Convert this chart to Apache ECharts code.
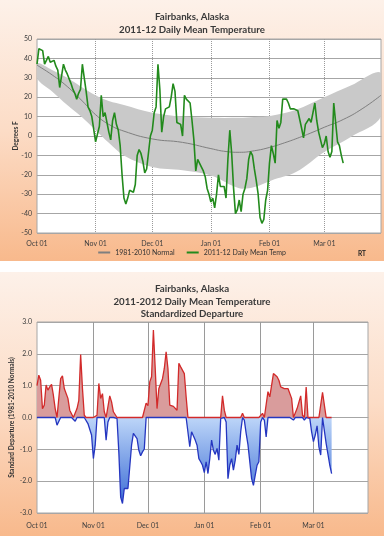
<!DOCTYPE html>
<html><head><meta charset="utf-8">
<script src="https://cdn.jsdelivr.net/npm/echarts@6/dist/echarts.min.js"></script>
<style>
html,body{margin:0;padding:0;background:#fff;width:384px;height:536px;overflow:hidden}
.panel{position:absolute;left:0;width:384px;background:linear-gradient(to bottom,#fdf1e9 0%,#fcdcc6 50%,#f8b98c 100%);}
#c1{top:0;height:261px}
#c2{top:272px;height:264px}
</style></head><body>
<div id="c1" class="panel"></div><div id="c2" class="panel"></div>
<script>
// ---- data ----
const dayCount = 183; // Oct 01 .. Mar 31
const monthTickDays = [0, 31, 61, 92, 123, 152];
const monthTickLabels = ['Oct 01', 'Nov 01', 'Dec 01', 'Jan 01', 'Feb 01', 'Mar 01'];
const tempTicks = [-50, -40, -30, -20, -10, 0, 10, 20, 30, 40, 50];
const depTicks = [-3, -2, -1, 0, 1, 2, 3];

const dailyTemp = [
  37, 45, 45, 44, 37, 36, 41, 38, 39, 39,
  36, 34, 25, 31, 37, 34, 32, 31, 27, 24,
  22, 19, 22, 24, 37, 30, 23, 15, 13, 10,
  9, -3, -3, 5, 21, 10, 12, 12, 2, -2,
  8, 12, 6, 3, -5, -20, -32, -35, -32, -28,
  -28, -29, -25, -10, -7, -9, -13, -19, -17, -16,
  0, 3, 12, 15, 37, 24, 2, 10, 14, 15,
  15, 20, 27, 23, 7, 7, 6, 0, 21, 19,
  19, 17, 8, -2, -18, -12, -13, -16, -18, -21,
  -27, -30, -34, -32, -37, -30, -20, -26, -25, -26,
  -32, -12, 3, -9, -27, -40, -38, -33, -39, -30,
  -27, -22, -12, -8, -10, -17, -23, -30, -42, -45,
  -43, -33, -28, -14, -5, -9, -14, 8, 4, 7,
  19, 20, 19, 17, 14, 15, 14, 14, 13, 12,
  4, -1, 6, 6, 9, 7, 6, 17, 8, 2,
  -2, -6, -4, 0, -8, -11, -8, 17, 17, -3,
  -5, -10, -14
];

const normalDays = [0, 8, 16, 24, 31, 38, 46, 61, 77, 92, 100, 107, 115, 123, 131, 139, 146, 152, 162, 172, 182];
const normalTemp = [36.5, 31.5, 25.5, 18, 11, 6, 2.5, -1.5, -3.3, -6.5, -8, -8.4, -7.6, -5.9, -3.5, -0.7, 2, 4.5, 8.5, 14, 21];

const bandDays  = [0, 8, 16, 24, 31, 38, 46, 61, 77, 92, 107, 115, 124, 137, 152, 166, 182];
const bandUpper = [37.5, 34, 30, 25, 21, 18, 16, 12, 10, 9.4, 9.4, 9.8, 10.5, 13.5, 20, 26, 32.5];
const bandLower = [29.8, 23, 16, 9.5, 3, -3.5, -10, -16, -17.7, -20.3, -26.9, -26.3, -22.9, -18.6, -8.2, -0.5, 10];

const dailyDeparture = [
  1.0, 1.33, 1.17, 0.28, 0.39, 1.02, 0.86, 0.96, 1.04, 0.7,
  0.28, -0.24, -0.24, 1.22, 1.31, 0.91, 0.89, 0.6, 0.23, 0.2,
  -0.03, -0.12, 0.28, 0.54, 1.98, 0.91, 0.07, -0.05, -0.19, -0.22,
  -0.55, -1.29, -0.87, 0.07, 1.07, 0.6, 0.75, 0.18, -0.71, -0.14,
  0.68, 0.49, 0.18, 0.13, -0.03, -1.1, -2.5, -2.7, -2.23, -2.18,
  -2.23, -2.18, -0.87, -0.5, -0.45, -0.66, -1.03, -1.2, -1.08, -0.99,
  0.45, 0.37, 1.12, 1.28, 2.75, 1.54, 0.28, 0.91, 0.96, 1.22,
  1.54, 2.06, 1.54, 0.39, 0.37, 0.35, 0.33, 0.23, 1.7, 1.59,
  1.54, 1.38, 0.65, -0.03, -0.92, -0.45, -0.5, -0.71, -0.87, -1.29,
  -1.39, -1.5, -1.73, -1.39, -1.76, -1.29, -0.71, -1.03, -1.16, -0.97,
  -1.34, -0.03, 0.68, 0.23, -0.14, -1.92, -1.5, -1.29, -1.65, -1.34,
  -0.87, -1.16, -0.45, 0.13, -0.08, -0.5, -0.85, -0.87, -1.92, -2.13,
  -1.81, -1.5, -1.39, -0.14, 0.13, -0.08, -0.61, 0.81, 0.65, 0.6,
  1.38, 1.38, 1.28, 1.17, 0.96, 1.02, 0.91, 0.96, 0.91, 0.91,
  0.6, -0.08, 0.02, 0.28, 0.28, 0.68, 0.07, -0.08, 0.96, -0.03,
  -0.03, -0.45, -0.76, -0.55, -0.26, -0.92, -1.18, 0.79, 0.75, -0.82,
  -0.87, -1.5, -1.76
];

// ---- helpers ----
const categories = Array.from({length: dayCount}, (_, i) => String(i));
const isMonthStart = (i) => monthTickDays.indexOf(i) >= 0;
const monthLabel = (i) => { const k = monthTickDays.indexOf(i); return k >= 0 ? monthTickLabels[k] : ''; };
const FONT = 'Lato, "Open Sans", sans-serif';

function xAxisCfg(splitType, labelMargin) {
  return {
    type: 'category', data: categories, boundaryGap: false,
    axisLine: {show: true, lineStyle: {color: '#a6a6a6', width: 1}},
    axisTick: {show: false},
    axisLabel: {interval: (i) => isMonthStart(i), formatter: (v, i) => monthLabel(i),
      color: '#404040', fontSize: 7, fontFamily: FONT, margin: labelMargin},
    splitLine: {show: true, interval: (i) => isMonthStart(i) && i > 0,
      lineStyle: {color: '#9a9a9a', type: splitType, width: 1}}
  };
}

// ---- top chart ----
const c1 = echarts.init(document.getElementById('c1'), null, {renderer: 'canvas'});
c1.setOption({
  backgroundColor: 'transparent',
  animation: false,
  textStyle: {fontFamily: FONT},
  title: {text: 'Fairbanks, Alaska\n2011-12 Daily Mean Temperature', left: 'center', top: 5,
    textStyle: {fontSize: 9.7, fontWeight: 'bold', color: '#3a3a3a', lineHeight: 13, fontFamily: FONT}},
  grid: {left: 37, right: 3, top: 39, bottom: 28, show: true, backgroundColor: '#ffffff', borderColor: '#a6a6a6', borderWidth: 1},
  xAxis: xAxisCfg('dotted', 7),
  yAxis: {type: 'value', min: tempTicks[0], max: tempTicks[tempTicks.length - 1], interval: 10,
    name: 'Degrees F', nameLocation: 'middle', nameGap: 18, nameRotate: 90, nameMoveOverlap: false,
    nameTextStyle: {fontSize: 6.5, fontWeight: 'bold', color: '#333', fontFamily: FONT},
    axisLine: {show: false}, axisTick: {show: false},
    axisLabel: {color: '#404040', fontSize: 7, fontFamily: FONT, margin: 5},
    splitLine: {show: true, lineStyle: {color: '#a6a6a6', width: 1}}},
  legend: {data: ['1981-2010 Normal', '2011-12 Daily Mean Temp'], left: 'center', top: 249,
    icon: 'rect', itemWidth: 12, itemHeight: 2, itemGap: 12, padding: 0,
    textStyle: {fontSize: 7, color: '#333', fontFamily: FONT}},
  graphic: [{type: 'text', left: 358, top: 250, style: {text: 'RT', fontSize: 6.5, fontWeight: 'bold', fill: '#222', fontFamily: FONT}}],
  series: [
    {name: 'band', type: 'custom', silent: true, clip: true, z: 1,
      data: [[0, 0]],
      renderItem: function (params, api) {
        const pts = [];
        for (let i = 0; i < bandDays.length; i++) pts.push(api.coord([bandDays[i], bandUpper[i]]));
        for (let i = bandDays.length - 1; i >= 0; i--) pts.push(api.coord([bandDays[i], bandLower[i]]));
        return {type: 'polygon', shape: {points: pts, smooth: 0.35}, style: {fill: '#c9c9c9'}};
      }},
    {name: '1981-2010 Normal', type: 'line', symbol: 'none', smooth: true, z: 2,
      data: normalDays.map((d, i) => [d, normalTemp[i]]), color: '#7f7f7f', lineStyle: {color: '#7f7f7f', width: 1}},
    {name: '2011-12 Daily Mean Temp', type: 'line', symbol: 'none', z: 3,
      data: dailyTemp, color: '#228a1c', lineStyle: {color: '#228a1c', width: 1.6}}
  ]
});

// ---- bottom chart ----
const c2 = echarts.init(document.getElementById('c2'), null, {renderer: 'canvas'});
c2.setOption({
  backgroundColor: 'transparent',
  animation: false,
  textStyle: {fontFamily: FONT},
  title: {text: 'Fairbanks, Alaska\n2011-2012 Daily Mean Temperature\nStandardized Departure', left: 'center', top: 6,
    textStyle: {fontSize: 9.7, fontWeight: 'bold', color: '#3a3a3a', lineHeight: 12.5, fontFamily: FONT}},
  grid: {left: 35.5, right: 16, top: 50, bottom: 23, show: true, backgroundColor: '#ffffff', borderColor: '#a6a6a6', borderWidth: 1},
  xAxis: xAxisCfg('solid', 9),
  yAxis: {type: 'value', min: depTicks[0], max: depTicks[depTicks.length - 1], interval: 1,
    name: 'Standard Departure (1981-2010 Normals)', nameLocation: 'middle', nameGap: 22, nameRotate: 90, nameMoveOverlap: false,
    nameTextStyle: {fontSize: 6.5, fontWeight: 'bold', color: '#333', fontFamily: FONT},
    axisLine: {show: false}, axisTick: {show: false},
    axisLabel: {color: '#404040', fontSize: 7, fontFamily: FONT, margin: 5, formatter: (v) => v.toFixed(1)},
    splitLine: {show: true, lineStyle: {color: '#a6a6a6', width: 1}}},
  series: [
    {name: 'below', type: 'line', symbol: 'none',
      data: dailyDeparture.map(v => Math.min(v, 0)),
      lineStyle: {color: '#2536c0', width: 1.3},
      areaStyle: {opacity: 1, color: {type: 'linear', x: 0, y: 146, x2: 0, y2: 241, global: true,
        colorStops: [{offset: 0, color: '#bcd5f8'}, {offset: 1, color: '#2f62d2'}]}}},
    {name: 'above', type: 'line', symbol: 'none',
      data: dailyDeparture.map(v => Math.max(v, 0)),
      lineStyle: {color: '#d22a2a', width: 1.3},
      areaStyle: {opacity: 1, color: '#d99c9c'}}
  ]
});
</script>
</body></html>
